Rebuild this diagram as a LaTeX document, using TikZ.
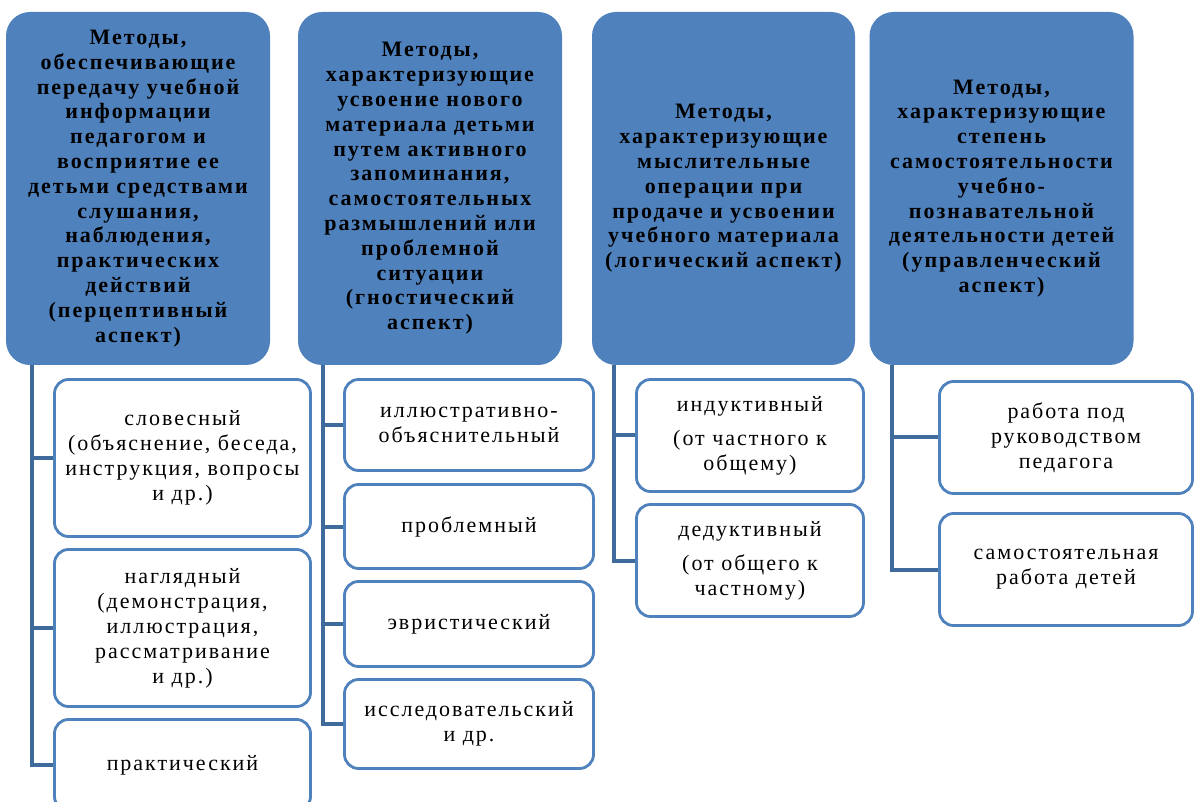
\documentclass[tikz,border=0pt]{standalone}
\usepackage{fontspec}
\setmainfont{Liberation Serif}
\newfontfamily\headfam{Liberation Serif}[LetterSpace=9]
\newfontfamily\itemfam{Liberation Serif}[LetterSpace=9]
\usetikzlibrary{calc}
\definecolor{hblue}{HTML}{4F81BD}
\definecolor{cblue}{HTML}{3F6A9C}
\newcommand{\headfont}{\headfam\fontsize{22pt}{24.8pt}\selectfont\bfseries}
\newcommand{\itemfont}{\itemfam\fontsize{22pt}{25pt}\selectfont}
\tikzset{
  head/.style={fill=hblue, rounded corners=24pt, minimum height=353pt, text width=258pt, align=center, font=\headfont, inner sep=0pt},
  item/.style={draw=hblue, line width=2.8pt, fill=white, rounded corners=14pt, align=center, font=\itemfont, inner sep=0pt},
  conn/.style={draw=cblue, line width=4pt}
}
\begin{document}
\begin{tikzpicture}[x=1pt,y=-1pt]
\clip (0,0) rectangle (1195,802);
\fill[white] (0,0) rectangle (1195,802);
% headers
\node[head, minimum width=264pt] (h1) at (138,188.5) {Методы,\\обеспечивающие\\передачу учебной\\информации\\педагогом и\\восприятие ее\\детьми средствами\\слушания,\\наблюдения,\\практических\\действий\\(перцептивный\\аспект)};
\node[head, minimum width=264pt] (h2) at (430,188.5) {Методы,\\характеризующие\\усвоение нового\\материала детьми\\путем активного\\запоминания,\\самостоятельных\\размышлений или\\проблемной\\ситуации\\(гностический\\аспект)};
\node[head, minimum width=263pt] (h3) at (723.5,188.5) {Методы,\\характеризующие\\мыслительные\\операции при\\продаче и усвоении\\учебного материала\\(логический аспект)};
\node[head, minimum width=264pt] (h4) at (1001.5,188.5) {Методы,\\характеризующие\\степень\\самостоятельности\\учебно-\\познавательной\\деятельности детей\\(управленческий\\аспект)};
% column 1
\node[item, minimum width=256pt, minimum height=157pt] (c1a) at (182.5,458) {словесный\\(объяснение, беседа,\\инструкция, вопросы\\и др.)};
\node[item, minimum width=256pt, minimum height=157pt] (c1b) at (182.5,628) {наглядный\\(демонстрация,\\иллюстрация,\\рассматривание\\и др.)};
\node[item, minimum width=256pt, minimum height=91pt] (c1c) at (182.5,765) {практический};
% column 2
\node[item, minimum width=249pt, minimum height=91pt] (c2a) at (469,425) {иллюстративно-\\объяснительный};
\node[item, minimum width=249pt, minimum height=84pt] (c2b) at (469,526.5) {проблемный};
\node[item, minimum width=249pt, minimum height=85pt] (c2c) at (469,624) {эвристический};
\node[item, minimum width=249pt, minimum height=89pt] (c2d) at (469,724) {исследовательский\\и др.};
% column 3
\node[item, minimum width=227pt, minimum height=112pt] (c3a) at (750,435.5) {индуктивный\\[9pt](от частного к\\общему)};
\node[item, minimum width=227pt, minimum height=112pt] (c3b) at (750,560.5) {дедуктивный\\[9pt](от общего к\\частному)};
% column 4
\node[item, minimum width=253pt, minimum height=112pt] (c4a) at (1066,437.5) {работа под\\руководством\\педагога};
\node[item, minimum width=253pt, minimum height=112pt] (c4b) at (1066,569.5) {самостоятельная\\работа детей};
% spines
\coordinate (s1) at ([xshift=26pt]h1.south west);
\coordinate (s2) at ([xshift=25pt]h2.south west);
\coordinate (s3) at ([xshift=22pt]h3.south west);
\coordinate (s4) at ([xshift=23pt]h4.south west);
\draw[conn] (s1) |- (c1c.west);
\draw[conn] (c1a.west) -- (c1a.west -| s1);
\draw[conn] (c1b.west) -- (c1b.west -| s1);
\draw[conn] (s2) |- (c2d.west);
\draw[conn] (c2a.west) -- (c2a.west -| s2);
\draw[conn] (c2b.west) -- (c2b.west -| s2);
\draw[conn] (c2c.west) -- (c2c.west -| s2);
\draw[conn] (s3) |- (c3b.west);
\draw[conn] (c3a.west) -- (c3a.west -| s3);
\draw[conn] (s4) |- (c4b.west);
\draw[conn] (c4a.west) -- (c4a.west -| s4);
\end{tikzpicture}
\end{document}
